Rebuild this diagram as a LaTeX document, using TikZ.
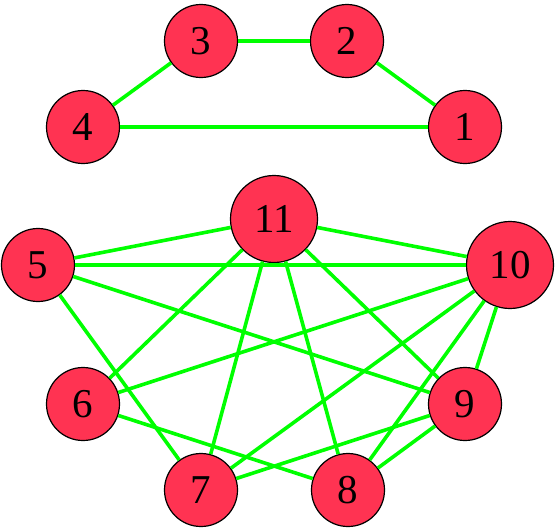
\documentclass[tikz,border=0pt]{standalone}
\usepackage{fontspec}
\setmainfont{Liberation Serif}
\usetikzlibrary{positioning}
\definecolor{VertRed}{HTML}{FF3352}
\definecolor{EdgeGreen}{HTML}{00FF00}

\begin{document}
\begin{tikzpicture}[x=1pt,y=-1pt,
vert/.style={circle,draw=black,line width=1.2pt,fill=VertRed,minimum size=73pt,inner sep=0pt,font=\fontsize{41}{41}\selectfont},
bigvert/.style={vert,minimum size=87pt},
link/.style={line width=3.6pt,draw=EdgeGreen}
]
\useasboundingbox (0,0) rectangle (556,528);
% Upper component: a four-cycle
\node[vert] (v1) at (465,127) {1};
\node[vert] (v2) at (347,41) {2};
\node[vert] (v3) at (201,41) {3};
\node[vert] (v4) at (83,127) {4};
\draw[link] (v3) -- (v2);
\draw[link] (v2) -- (v1);
\draw[link] (v3) -- (v4);
\draw[link] (v4) -- (v1);

% Lower component
\node[vert] (v5) at (38,265) {5};
\node[bigvert] (v11) at (274,219) {11};
\node[bigvert] (v10) at (510,265) {10};
\node[vert] (v6) at (83,404) {6};
\node[vert] (v9) at (465,404) {9};
\node[vert] (v7) at (201,490) {7};
\node[vert] (v8) at (348,490) {8};
\draw[link] (v5) -- (v11);
\draw[link] (v5) -- (v10);
\draw[link] (v5) -- (v9);
\draw[link] (v5) -- (v7);
\draw[link] (v11) -- (v10);
\draw[link] (v11) -- (v6);
\draw[link] (v11) -- (v7);
\draw[link] (v11) -- (v8);
\draw[link] (v11) -- (v9);
\draw[link] (v10) -- (v6);
\draw[link] (v10) -- (v7);
\draw[link] (v10) -- (v8);
\draw[link] (v10) -- (v9);
\draw[link] (v6) -- (v8);
\draw[link] (v7) -- (v9);
\draw[link] (v8) -- (v9);
\end{tikzpicture}
\end{document}
